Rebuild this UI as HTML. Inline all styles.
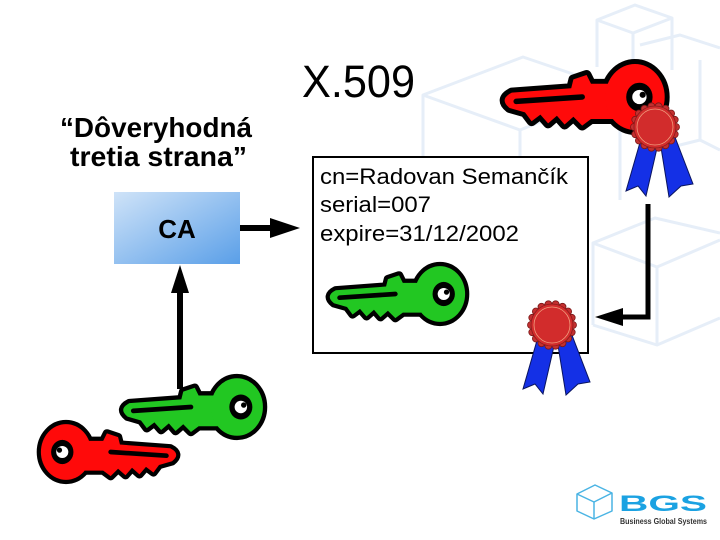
<!DOCTYPE html>
<html><head><meta charset="utf-8"><style>
html,body{margin:0;padding:0;background:#fff;}
svg{display:block;}
</style></head><body>
<svg width="720" height="540" viewBox="0 0 720 540" xmlns="http://www.w3.org/2000/svg">
<defs>
<linearGradient id="cag" x1="0" y1="0" x2="1" y2="1">
<stop offset="0" stop-color="#cfe3f8"/>
<stop offset="1" stop-color="#5a9fe8"/>
</linearGradient>
<path id="shaft" d="M-20,-12 L-40,-12 L-44,-20 L-56,-16 L-58,-8 L-112,-4 Q-124,2 -114,10 L-100,14 L-94,22 L-86,16 L-79,24 L-71,17 L-64,25 L-56,18 L-48,26 L-40,20 L-20,20 Z"/>
<g id="key">
<use href="#shaft" fill="#000" stroke="#000" stroke-width="9" stroke-linejoin="round"/>
<ellipse cx="0" cy="0" rx="27" ry="30" fill="#000" stroke="#000" stroke-width="9"/>
<path d="M-20,-12 L-40,-12 L-44,-20 L-56,-16 L-58,-8 L-112,-4 Q-124,2 -114,10 L-100,14 L-94,22 L-86,16 L-79,24 L-71,17 L-64,25 L-56,18 L-48,26 L-40,20 L-20,20 Z"/>
<ellipse cx="0" cy="0" rx="27" ry="30"/>
<path d="M-108,4 L-48,0" stroke="#000" stroke-width="5" stroke-linecap="round" fill="none"/>
<ellipse cx="4" cy="0" rx="12" ry="13" fill="#000"/>
<circle cx="4" cy="0" r="6.5" fill="#fff"/>
<circle cx="7" cy="-2" r="2.8" fill="#000"/>
</g>
<g id="seal">
<polygon points="-12,5 5,8 -9,69 -17,59 -29,64" fill="#1430e6" stroke="#0a1560" stroke-width="1"/>
<polygon points="4,8 18,5 38,57 26,59 14,70" fill="#1430e6" stroke="#0a1560" stroke-width="1"/>
<g fill="#c33030" stroke="#7a1818" stroke-width="0.8">
<circle cx="21" cy="0" r="3.5"/><circle cx="19.7" cy="7.2" r="3.5"/><circle cx="16.1" cy="13.5" r="3.5"/><circle cx="10.5" cy="18.2" r="3.5"/><circle cx="3.6" cy="20.7" r="3.5"/><circle cx="-3.6" cy="20.7" r="3.5"/><circle cx="-10.5" cy="18.2" r="3.5"/><circle cx="-16.1" cy="13.5" r="3.5"/><circle cx="-19.7" cy="7.2" r="3.5"/><circle cx="-21" cy="0" r="3.5"/><circle cx="-19.7" cy="-7.2" r="3.5"/><circle cx="-16.1" cy="-13.5" r="3.5"/><circle cx="-10.5" cy="-18.2" r="3.5"/><circle cx="-3.6" cy="-20.7" r="3.5"/><circle cx="3.6" cy="-20.7" r="3.5"/><circle cx="10.5" cy="-18.2" r="3.5"/><circle cx="16.1" cy="-13.5" r="3.5"/><circle cx="19.7" cy="-7.2" r="3.5"/>
</g>
<circle cx="0" cy="0" r="21" fill="#d22c2c" stroke="#8a1a1a" stroke-width="0.8"/>
<circle cx="0" cy="0" r="18" fill="none" stroke="#f2a080" stroke-width="0.8"/>
</g>
</defs>

<!-- faint background cubes -->
<g fill="none" stroke="#e6eef8" stroke-width="3" stroke-linejoin="round">
<polyline points="423,250 423,95 523,57 620,90 620,200"/>
<polyline points="423,95 520,130 620,90"/>
<line x1="520" y1="130" x2="520" y2="250"/>
<polyline points="597,67 597,20 635,5 672,18 672,70"/>
<polyline points="597,20 633,33 672,18"/>
<line x1="633" y1="33" x2="633" y2="80"/>
<polyline points="640,45 680,35 720,48"/>
<line x1="700" y1="60" x2="700" y2="140"/>
<polyline points="593,325 593,243 657,267 720,240"/>
<polyline points="593,243 655,218 720,233"/>
<line x1="657" y1="267" x2="657" y2="345"/>
<polyline points="593,325 657,345 720,318"/>
<polyline points="660,150 700,140 720,150"/>
</g>

<!-- Title -->
<text x="302" y="97" font-family="Liberation Sans, Arial, sans-serif" font-size="45" fill="#000" textLength="113" lengthAdjust="spacingAndGlyphs">X.509</text>

<!-- Trusted third party -->
<text x="60" y="137" font-family="Liberation Sans, Arial, sans-serif" font-size="28" font-weight="bold" fill="#000" textLength="192" lengthAdjust="spacingAndGlyphs">“Dôveryhodná</text>
<text x="70" y="166" font-family="Liberation Sans, Arial, sans-serif" font-size="28" font-weight="bold" fill="#000" textLength="177" lengthAdjust="spacingAndGlyphs">tretia strana”</text>

<!-- CA box -->
<rect x="114" y="192" width="126" height="72" fill="url(#cag)"/>
<text x="177" y="238" text-anchor="middle" font-family="Liberation Sans, Arial, sans-serif" font-size="26" font-weight="bold" fill="#000">CA</text>

<!-- arrow CA -> cert -->
<line x1="240" y1="228" x2="274" y2="228" stroke="#000" stroke-width="6"/>
<polygon points="300,228 270,218 270,238" fill="#000"/>

<!-- up arrow -->
<line x1="180" y1="389" x2="180" y2="288" stroke="#000" stroke-width="6"/>
<polygon points="180,265 171,293 189,293" fill="#000"/>

<!-- certificate -->
<rect x="313" y="157" width="275" height="196" fill="#fff" stroke="#000" stroke-width="2"/>
<text x="320" y="184" font-family="Liberation Sans, Arial, sans-serif" font-size="22" fill="#000" textLength="248" lengthAdjust="spacingAndGlyphs">cn=Radovan Semančík</text>
<text x="320" y="212" font-family="Liberation Sans, Arial, sans-serif" font-size="22" fill="#000" textLength="111" lengthAdjust="spacingAndGlyphs">serial=007</text>
<text x="320" y="241" font-family="Liberation Sans, Arial, sans-serif" font-size="22" fill="#000" textLength="199" lengthAdjust="spacingAndGlyphs">expire=31/12/2002</text>

<!-- keys -->
<use href="#key" transform="translate(440,294) scale(0.93)" fill="#22c722"/>
<use href="#key" transform="translate(635,97) scale(1.1)" fill="#ff0a0a"/>
<use href="#key" transform="translate(237,407) scale(0.96)" fill="#22c722"/>
<use href="#key" transform="translate(66,452) scale(-0.93,0.93)" fill="#ff0a0a"/>

<!-- seals -->
<use href="#seal" transform="translate(655,127)"/>
<use href="#seal" transform="translate(552,325)"/>

<!-- bracket arrow -->
<polyline points="648,204 648,317 618,317" fill="none" stroke="#000" stroke-width="5"/>
<polygon points="595,317 623,308 623,326" fill="#000"/>

<!-- BGS logo -->
<g fill="none" stroke="#4ab4e4" stroke-width="1.5" stroke-linejoin="round">
<polygon points="577,494 595,485 612,493 612,511 594,519 577,511"/>
<polyline points="577,494 594,502 612,493"/>
<line x1="594" y1="502" x2="594" y2="519"/>
</g>
<text x="619" y="511" font-family="Liberation Sans, Arial, sans-serif" font-size="22" font-weight="bold" fill="#1ba2e2" textLength="88" lengthAdjust="spacingAndGlyphs">BGS</text>
<text x="620" y="524" font-family="Liberation Sans, Arial, sans-serif" font-size="8" font-weight="bold" fill="#333" textLength="87" lengthAdjust="spacingAndGlyphs">Business Global Systems</text>
</svg>
</body></html>
